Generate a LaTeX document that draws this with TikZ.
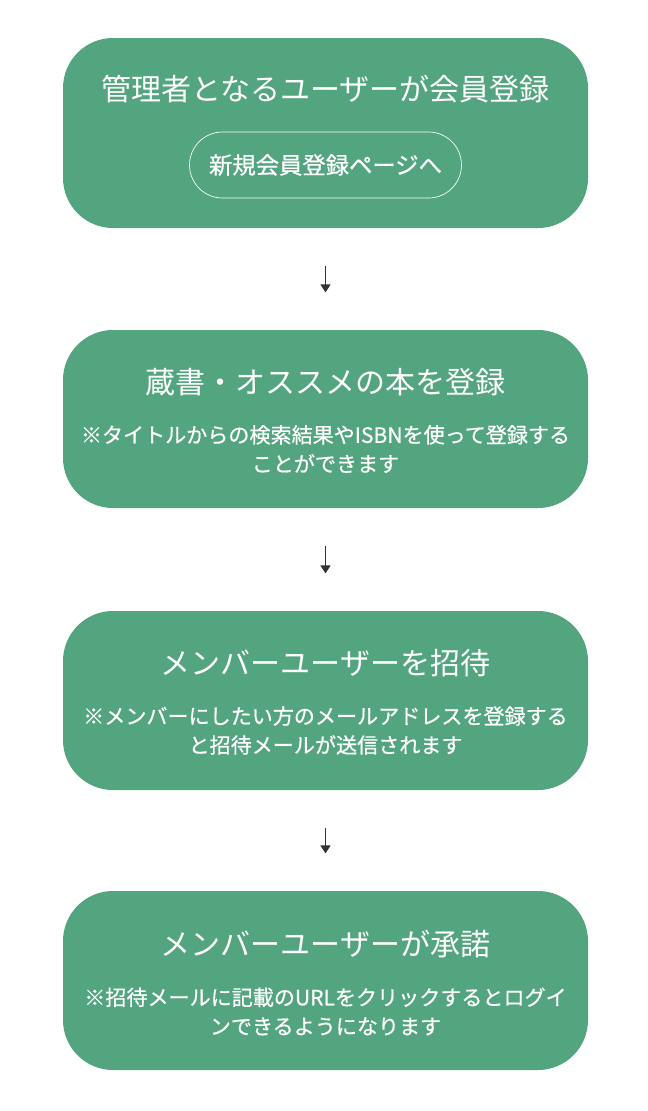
\documentclass[tikz,border=0pt]{standalone}
\usepackage{fontspec}
\setmainfont{Noto Sans CJK JP}
\newfontfamily\notefont{Noto Sans CJK JP}[FakeBold=0.6]
\usetikzlibrary{arrows.meta}
\definecolor{stepgreen}{RGB}{83,165,127}
\definecolor{arrowgray}{RGB}{51,51,51}
\begin{document}
\begin{tikzpicture}[
		x=0.75pt, y=-0.75pt,
		stepbox/.style={fill=stepgreen, rounded corners=37.5pt, minimum width=393.75pt, inner sep=0pt},
		title/.style={text=white, font=\fontsize{22.5}{27}\selectfont},
		note/.style={text=white, align=center, font=\notefont\fontsize{15.8}{21.75}\selectfont},
		button/.style={draw=white, line width=0.5pt, text=white, rounded corners=24.75pt, minimum width=204pt, minimum height=49.5pt, font=\notefont\fontsize{17.5}{20}\selectfont},
		flow/.style={-{Triangle[width=7.5pt,length=6pt]}, draw=arrowgray, line width=1pt, shorten <=28.5pt, shorten >=28pt}
	]
		\useasboundingbox (0,0) rectangle (648,1111);
		\node[stepbox, minimum height=142.5pt] (s1) at (325.5,133) {};
		\node[stepbox, minimum height=133.5pt] (s2) at (325.5,419) {};
		\node[stepbox, minimum height=134.25pt] (s3) at (325.5,700.5) {};
		\node[stepbox, minimum height=134.25pt] (s4) at (325.5,980.5) {};
		\node[title] (t1) at (325.5,89) {管理者となるユーザーが会員登録};
		\node[button] (b1) at (325.5,165) {新規会員登録ページへ};
		\node[title] (t2) at (325.5,382) {蔵書・オススメの本を登録};
		\node[note] (n2) at (325.5,449) {※タイトルからの検索結果やISBNを使って登録する\\ことができます};
		\node[title] (t3) at (325.5,663) {メンバーユーザーを招待};
		\node[note] (n3) at (325.5,730.5) {※メンバーにしたい方のメールアドレスを登録する\\と招待メールが送信されます};
		\node[title] (t4) at (325.5,944) {メンバーユーザーが承諾};
		\node[note] (n4) at (325.5,1011.5) {※招待メールに記載のURLをクリックするとログイ\\ンできるようになります};
		\draw[flow] (s1.south) -- (s2.north);
		\draw[flow] (s2.south) -- (s3.north);
		\draw[flow] (s3.south) -- (s4.north);
	\end{tikzpicture}
\end{document}
